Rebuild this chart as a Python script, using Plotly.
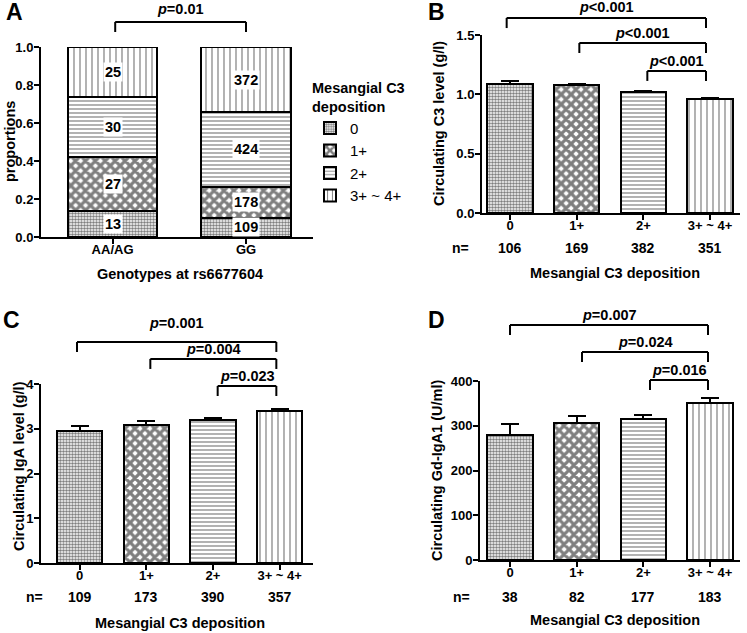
import plotly.graph_objects as go

W, H = 747, 633

# ---------------- data ----------------
genotypes = ["AA/AG", "GG"]
c3_grades = ["0", "1+", "2+", "3+ ~ 4+"]
counts_AA = [13, 27, 30, 25]
counts_GG = [109, 178, 424, 372]
p_A = "=0.01"

b_means = [1.09, 1.08, 1.02, 0.96]
b_sem = [0.02, 0.01, 0.01, 0.01]
b_n = [106, 169, 382, 351]
b_p = ["<0.001", "<0.001", "<0.001"]

c_means = [2.95, 3.08, 3.20, 3.40]
c_sem = [0.11, 0.09, 0.05, 0.05]
c_n = [109, 173, 390, 357]
c_p = ["=0.001", "=0.004", "=0.023"]

d_means = [280, 307, 315, 350]
d_sem = [23, 15, 10, 13]
d_n = [38, 82, 177, 183]
d_p = ["=0.007", "=0.024", "=0.016"]

# ---------------- styles ----------------
FONT = "Liberation Sans"
pat_shape = [".", "x", "-", "|"]
pat_size = [3, 7, 4, 6]
pat_sol = [0.55, 0.7, 0.3, 0.2]

# panel geometry (domains in paper, ranges in data)
P = {
    "A": dict(x="x", y="y", xd=[41 / W, 313 / W], yd=[(H - 237) / H, (H - 47) / H], xr=[-0.536, 1.502], yr=[0, 1]),
    "B": dict(x="x2", y="y2", xd=[482 / W, 740 / W], yd=[(H - 213) / H, (H - 35) / H], xr=[-0.42, 3.45], yr=[0, 1.5]),
    "C": dict(x="x3", y="y3", xd=[41 / W, 313 / W], yd=[(H - 563) / H, (H - 384) / H], xr=[-0.58, 3.5], yr=[0, 4]),
    "D": dict(x="x4", y="y4", xd=[480 / W, 740 / W], yd=[(H - 560) / H, (H - 381) / H], xr=[-0.45, 3.45], yr=[0, 400]),
}


def px(panel, xv):
    g = P[panel]
    f = (xv - g["xr"][0]) / (g["xr"][1] - g["xr"][0])
    return g["xd"][0] + f * (g["xd"][1] - g["xd"][0])


def py(panel, frac):
    g = P[panel]
    return g["yd"][0] + frac * (g["yd"][1] - g["yd"][0])


def ann(**kw):
    d = dict(showarrow=False, xanchor="center", yanchor="middle")
    d.update(kw)
    return d


fig = go.Figure()

# ---------------- Panel A: stacked proportions ----------------
tot_AA = sum(counts_AA)
tot_GG = sum(counts_GG)
prop_AA = [c / tot_AA for c in counts_AA]
prop_GG = [c / tot_GG for c in counts_GG]
for i, g in enumerate(c3_grades):
    fig.add_trace(go.Bar(
        x=[0, 1], y=[prop_AA[i], prop_GG[i]], name=g, width=0.667,
        xaxis="x", yaxis="y",
        marker=dict(color="white", line=dict(color="black", width=2),
                    pattern=dict(shape=pat_shape[i], size=pat_size[i], solidity=pat_sol[i],
                                 fgcolor="black", bgcolor="white")),
        showlegend=True,
    ))

annotations = []
shapes = []
cumA = 0
cumG = 0
for i in range(4):
    annotations.append(ann(x=0, y=cumA + prop_AA[i] / 2, xref="x", yref="y", text=str(counts_AA[i]),
                           bgcolor="white", font=dict(size=14.5, color="black"), borderpad=1))
    annotations.append(ann(x=1, y=cumG + prop_GG[i] / 2, xref="x", yref="y", text=str(counts_GG[i]),
                           bgcolor="white", font=dict(size=14.5, color="black"), borderpad=1))
    cumA += prop_AA[i]
    cumG += prop_GG[i]


def bracket(panel, x1, x2, yh, yd, text, yt):
    X1, X2 = px(panel, x1), px(panel, x2)
    Yh, Yd = py(panel, yh), py(panel, yd)
    for (a, b, c, d) in [(X1, Yd, X1, Yh), (X1, Yh, X2, Yh), (X2, Yh, X2, Yd)]:
        shapes.append(dict(type="line", xref="paper", yref="paper", x0=a, y0=b, x1=c, y1=d,
                           line=dict(color="black", width=2)))
    annotations.append(ann(x=(X1 + X2) / 2, y=py(panel, yt), xref="paper", yref="paper",
                           text="<i>p</i>" + text, font=dict(size=14.5, color="black")))


bracket("A", 0.02, 1.0, 1.132, 1.079, p_A, 1.2)

# ---------------- Panels B, C, D ----------------
def bar_panel(panel, means, sem, ns, pvals, levels, offs):
    g = P[panel]
    fig.add_trace(go.Bar(
        x=[0, 1, 2, 3], y=means, width=0.68, xaxis=g["x"], yaxis=g["y"], showlegend=False,
        marker=dict(color="white", line=dict(color="black", width=2),
                    pattern=dict(shape=pat_shape, size=pat_size, solidity=pat_sol,
                                 fgcolor="black", bgcolor="white")),
        error_y=dict(type="data", symmetric=False, array=sem, arrayminus=[0] * 4,
                     color="black", thickness=2, width=9),
    ))
    lefts = [0 + offs[0], 1 + offs[1], 2 + offs[2]]
    right = 3 + offs[3]
    for k in range(3):
        yh, yd, yt = levels[k]
        bracket(panel, lefts[k], right, yh, yd, pvals[k], yt)


bar_panel("B", b_means, b_sem, b_n, b_p,
          [(1.096, 1.039, 1.155), (0.955, 0.899, 1.01), (0.798, 0.742, 0.852)],
          [-0.05, 0.04, 0.06, -0.06])
bar_panel("C", c_means, c_sem, c_n, c_p,
          [(1.235, 1.179, 1.343), (1.14, 1.084, 1.198), (0.989, 0.933, 1.043)],
          [-0.04, 0.06, 0.07, -0.05])
bar_panel("D", d_means, d_sem, d_n, d_p,
          [(1.313, 1.257, 1.368), (1.162, 1.106, 1.218), (1.006, 0.95, 1.062)],
          [0.0, 0.08, 0.1, -0.03])

# n= rows
for panel, ns, ypix, nx in [("B", b_n, 248, 460), ("C", c_n, 597, 34), ("D", d_n, 597, 461)]:
    g = P[panel]
    annotations.append(ann(x=nx / W, y=(H - ypix) / H, xref="paper", yref="paper", text="n=",
                           font=dict(size=14, color="black")))
    for j, n in enumerate(ns):
        annotations.append(ann(x=j, y=(H - ypix) / H, xref=g["x"], yref="paper", text=str(n),
                               font=dict(size=14, color="black")))

# axis titles
titles = [
    ("proportions", 10, 142, -90),
    ("Genotypes at rs6677604", 180, 274, 0),
    ("Circulating C3 level (g/l)", 439, 124, -90),
    ("Mesangial C3 deposition", 615, 273, 0),
    ("Circulating IgA level (g/l)", 19, 466, -90),
    ("Mesangial C3 deposition", 180, 623, 0),
    ("Circulating Gd-IgA1 (U/ml)", 437, 470, -90),
    ("Mesangial C3 deposition", 615, 620, 0),
]
for t, xx, yy, ang in titles:
    annotations.append(ann(x=xx / W, y=(H - yy) / H, xref="paper", yref="paper", text=t,
                           textangle=ang, font=dict(size=14.5, color="black")))

# panel letters
for t, xx, yy in [("A", 14, 12), ("B", 436, 12), ("C", 11, 320), ("D", 436, 320)]:
    annotations.append(ann(x=xx / W, y=(H - yy) / H, xref="paper", yref="paper", text=t,
                           font=dict(size=23, color="black")))

axis_common = dict(showline=True, linewidth=2, linecolor="black", ticks="outside", ticklen=5,
                   tickwidth=2, tickcolor="black", showgrid=False, zeroline=False,
                   tickfont=dict(size=13, color="black"), fixedrange=True, automargin=False)

layout = dict(
    width=W, height=H, margin=dict(l=0, r=0, t=0, b=0, pad=0, autoexpand=False),
    paper_bgcolor="white", plot_bgcolor="white", barmode="stack",
    font=dict(family=FONT, weight="bold", color="black"),
    annotations=annotations, shapes=shapes,
    legend=dict(x=310 / W, y=(H - 74) / H, xanchor="left", yanchor="top", traceorder="normal",
                title=dict(text="Mesangial C3<br>deposition", font=dict(size=14.5, weight="bold")),
                font=dict(size=15, weight="normal"), bgcolor="rgba(0,0,0,0)"),
)

for key in ["A", "B", "C", "D"]:
    g = P[key]
    xn = "xaxis" + g["x"][1:]
    yn = "yaxis" + g["y"][1:]
    if key == "A":
        tv, tt = [0, 1], genotypes
    else:
        tv, tt = [0, 1, 2, 3], c3_grades
    layout[xn] = dict(axis_common, domain=g["xd"], range=g["xr"], anchor=g["y"],
                      tickvals=tv, ticktext=tt, ticklabelstandoff=-6)
    ydict = dict(axis_common, domain=g["yd"], range=g["yr"], anchor=g["x"], ticklabelstandoff=-2)
    if key == "A":
        ytv = [0, 0.2, 0.4, 0.6, 0.8, 1.0]
        ydict.update(tickvals=ytv, ticktext=["%.1f" % v for v in ytv])
    elif key == "B":
        ydict.update(tickvals=[0, 0.5, 1.0, 1.5], ticktext=["0.0", "0.5", "1.0", "1.5"])
    elif key == "C":
        ydict.update(tickvals=[0, 1, 2, 3, 4])
    else:
        ydict.update(tickvals=[0, 100, 200, 300, 400])
    layout[yn] = ydict

fig.update_layout(**layout)
fig.write_html("out.html", config={"displayModeBar": False},
               post_script="document.body.style.margin='0px';document.body.style.overflow='hidden';")
